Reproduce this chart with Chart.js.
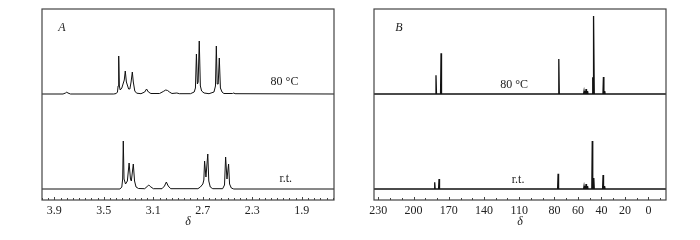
<!DOCTYPE html>
<html>
<head>
<meta charset="utf-8">
<script src="https://cdn.jsdelivr.net/npm/chart.js@4.4.0/dist/chart.umd.min.js"></script>
<style>
  body { margin: 0; background: #fff; }
  .wrap { display: flex; width: 700px; height: 240px; }
  .box { width: 350px; height: 240px; }
</style>
</head>
<body>
<div class="wrap">
  <div class="box"><canvas id="panelA" width="350" height="240"></canvas></div>
  <div class="box"><canvas id="panelB" width="350" height="240"></canvas></div>
</div>
<script>
// 1H spectra (delta, intensity)
const h80 = [
  [4.00,0],[3.83,0],[3.81,1],[3.80,1.8],[3.79,1],[3.77,0],
  [3.42,0],[3.40,0.5],[3.39,2],[3.385,8],[3.38,38],[3.375,8],[3.368,4],[3.355,6],[3.335,14],[3.327,23],[3.318,12],
  [3.30,5],[3.29,5],[3.28,12],[3.27,22],[3.262,12],[3.25,3],[3.235,0.8],[3.20,0.3],[3.17,2],[3.155,5],[3.14,2],[3.12,0.5],
  [3.05,0.5],[3.02,2.5],[3.00,4],[2.985,3.5],[2.97,2],[2.95,0.5],[2.91,1],[2.89,0.3],[2.80,0.3],
  [2.77,2],[2.76,6],[2.752,40],[2.744,10],[2.738,12],[2.729,53],[2.72,8],[2.71,3],[2.69,1],[2.65,0.3],
  [2.61,2],[2.598,8],[2.591,48],[2.584,10],[2.576,10],[2.567,36],[2.558,6],[2.545,2],[2.53,0.5],
  [2.46,0.5],[2.45,1],[2.44,0.3],[1.64,0]
];
const hRT = [
  [4.00,0],[3.37,0],[3.355,2],[3.348,10],[3.343,48],[3.337,10],[3.325,5],[3.31,8],[3.296,26],[3.285,10],[3.278,8],
  [3.262,25],[3.252,8],[3.24,2],[3.22,0.5],[3.17,0.3],[3.15,2.5],[3.137,4],[3.125,2.5],[3.10,0.3],
  [3.03,0.3],[3.01,3],[2.995,7],[2.98,3],[2.96,0.3],[2.74,0.3],[2.72,2],[2.70,5],[2.692,9],[2.686,28],[2.675,12],
  [2.66,35],[2.652,8],[2.64,2],[2.62,0.3],[2.54,0.3],[2.525,4],[2.516,32],[2.505,10],[2.492,25],[2.484,5],
  [2.47,1],[2.45,0],[1.64,0]
];
// 13C spectra (delta, intensity)
const c80 = [
  [233.7,0],[181.3,0],[180.9,18.7],[180.5,0],[177.0,0],[176.6,40.7],[176.2,0],[76.7,0],[76.3,35],[75.9,0],
  [55.2,0],[54.8,3],[54.4,0],[53.5,0],[53.1,5],[52.7,0],[52.2,0],[51.8,3],[51.4,0],[47.8,0],[47.4,16.7],[47.0,0],
  [46.9,0],[46.5,78],[46.1,0],[38.7,0],[38.3,17],[37.9,0],[37.6,0],[37.2,3],[36.8,0],[-15,0]
];
const cRT = [
  [233.7,0],[182.4,0],[182.0,6.7],[181.6,0],[178.7,0],[178.3,10],[177.9,0],[77.3,0],[76.9,15.3],[76.5,0],
  [55.2,0],[54.8,3],[54.4,0],[53.5,0],[53.1,5],[52.7,0],[52.2,0],[51.8,3],[51.4,0],[48.2,0],[47.8,48],[47.4,0],
  [46.9,0],[46.5,11],[46.1,0],[39.0,0],[38.6,14],[38.2,0],[37.7,0],[37.3,3],[36.9,0],[-15,0]
];
const hTicks = [3.9, 3.5, 3.1, 2.7, 2.3, 1.9];
const cTicks = [230, 200, 170, 140, 110, 80, 60, 40, 20, 0];

const serif = "'Liberation Serif', 'DejaVu Serif', serif";

// frame, inward ticks and in-plot texts
const framePlugin = {
  id: 'frame',
  afterDraw(chart, args, opts) {
    const ctx = chart.ctx, a = chart.chartArea, xs = chart.scales.x;
    ctx.save();
    ctx.strokeStyle = '#444';
    ctx.lineWidth = 1.2;
    ctx.strokeRect(a.left, a.top, a.right - a.left, a.bottom - a.top);
    ctx.lineWidth = 1;
    ctx.beginPath();
    const lo = Math.ceil(xs.min / opts.minor - 1e-6), hi = Math.floor(xs.max / opts.minor + 1e-6);
    for (let k = lo; k <= hi; k++) {
      const px = Math.round(xs.getPixelForValue(k * opts.minor)) + 0.5;
      ctx.moveTo(px, a.bottom);
      ctx.lineTo(px, a.bottom - 2);
    }
    opts.major.forEach(v => {
      const px = Math.round(xs.getPixelForValue(v)) + 0.5;
      ctx.moveTo(px, a.bottom);
      ctx.lineTo(px, a.bottom - 3);
    });
    ctx.stroke();
    ctx.fillStyle = '#222';
    ctx.textAlign = 'center';
    ctx.textBaseline = 'middle';
    opts.texts.forEach(t => {
      ctx.font = (t.italic ? 'italic ' : '') + '12px ' + serif;
      ctx.fillText(t.text, xs.getPixelForValue(t.x), chart.scales[t.axis].getPixelForValue(t.y));
    });
    ctx.restore();
  }
};

function spectrumChart(id, top, bottom, range, ticks, pad, plugOpts, lw) {
  const line = (pts, axis) => ({
    data: pts.map(p => ({ x: p[0], y: p[1] })),
    yAxisID: axis,
    borderColor: '#111',
    borderWidth: lw,
    pointRadius: 0,
    tension: 0,
    fill: false
  });
  return new Chart(document.getElementById(id).getContext('2d'), {
    type: 'line',
    data: { datasets: [line(top, 'yTop'), line(bottom, 'yBot')] },
    options: {
      responsive: false,
      animation: false,
      layout: { padding: pad },
      plugins: { legend: { display: false }, tooltip: { enabled: false }, frame: plugOpts },
      scales: {
        x: {
          type: 'linear', reverse: true, min: range[0], max: range[1],
          afterBuildTicks: s => { s.ticks = ticks.map(v => ({ value: v })); },
          afterFit: s => { s.height = 29; },
          grid: { display: false, drawTicks: false },
          border: { display: false },
          ticks: { color: '#222', padding: 4, font: { family: serif, size: 12 }, maxRotation: 0, autoSkip: false },
          title: { display: true, text: 'δ', color: '#222', padding: { top: 0, bottom: 0 },
                   font: { family: serif, size: 12, style: 'italic' } }
        },
        yBot: { type: 'linear', display: false, min: -11, max: 84.5, stack: 'sp', stackWeight: 1 },
        yTop: { type: 'linear', display: false, min: -10.5, max: 85, stack: 'sp', stackWeight: 1 }
      }
    },
    plugins: [framePlugin]
  });
}

spectrumChart('panelA', h80, hRT, [1.64, 4.0], hTicks,
  { left: 42, right: 16, top: 9, bottom: 11 },
  { minor: 0.05, major: hTicks, texts: [
    { text: 'A', x: 3.84, y: 66, axis: 'yTop', italic: true },
    { text: '80 °C', x: 2.04, y: 12, axis: 'yTop' },
    { text: 'r.t.', x: 2.03, y: 10, axis: 'yBot' }
  ] }, 1);

spectrumChart('panelB', c80, cRT, [-15, 233.7], cTicks,
  { left: 24, right: 34, top: 9, bottom: 11 },
  { minor: 10, major: cTicks, texts: [
    { text: 'B', x: 212.5, y: 66, axis: 'yTop', italic: true },
    { text: '80 °C', x: 114.4, y: 9, axis: 'yTop' },
    { text: 'r.t.', x: 111, y: 9, axis: 'yBot' }
  ] }, 1.3);
</script>
</body>
</html>
